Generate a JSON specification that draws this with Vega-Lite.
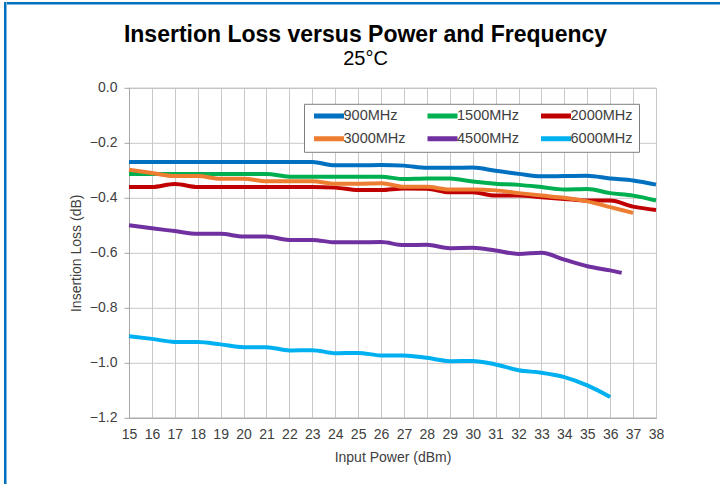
{
  "$schema": "https://vega.github.io/schema/vega-lite/v6.json",
  "padding": {"left": 4, "top": 2, "right": 0, "bottom": 0},
  "background": "white",
  "config": {
    "font": "Liberation Sans",
    "view": {"stroke": "#A6A6A6", "strokeWidth": 1}
  },
  "bounds": "flush",
  "spacing": 0,
  "resolve": {"scale": {"color": "independent"}, "legend": {"color": "independent"}},
  "hconcat": [
    {
      "width": 2.5,
      "height": 482,
      "view": {"fill": "#0070C0", "stroke": null},
      "data": {"values": [{"k": 1}]},
      "mark": {"type": "point", "size": 0, "opacity": 0},
      "encoding": {}
    },
    {
      "bounds": "flush",
      "spacing": 82.8,
      "resolve": {"scale": {"color": "independent"}, "legend": {"color": "independent"}},
      "vconcat": [
        {
          "width": 713.5,
          "height": 2.5,
          "view": {"fill": "#0070C0", "stroke": null},
          "data": {"values": [{"k": 1}]},
          "mark": {"type": "point", "size": 0, "opacity": 0},
          "encoding": {}
        },
        {
          "bounds": "flush",
          "spacing": 121,
          "resolve": {"scale": {"color": "independent"}, "legend": {"color": "independent"}},
          "hconcat": [
            {
              "width": 1,
              "height": 1,
              "view": {"stroke": null},
              "data": {"values": [{"k": 1}]},
              "mark": {"type": "point", "size": 0, "opacity": 0},
              "encoding": {}
            },
            {
              "width": 527,
              "height": 330,
              "title": {
                "text": "Insertion Loss versus Power and Frequency",
                "subtitle": "25°C",
                "anchor": "middle",
                "frame": "group",
                "dx": -27,
                "offset": 12,
                "font": "Liberation Sans",
                "fontSize": 23,
                "fontWeight": "bold",
                "color": "#000000",
                "subtitleFont": "Liberation Sans",
                "subtitleFontSize": 20,
                "subtitleColor": "#000000",
                "subtitlePadding": 2
              },
              "data": {
                "values": [
                  {"series": "900MHz", "x": 15, "y": -0.27}, {"series": "900MHz", "x": 16, "y": -0.27}, {"series": "900MHz", "x": 17, "y": -0.27}, {"series": "900MHz", "x": 18, "y": -0.27}, {"series": "900MHz", "x": 19, "y": -0.27}, {"series": "900MHz", "x": 20, "y": -0.27}, {"series": "900MHz", "x": 21, "y": -0.27}, {"series": "900MHz", "x": 22, "y": -0.27}, {"series": "900MHz", "x": 23, "y": -0.27}, {"series": "900MHz", "x": 24, "y": -0.282}, {"series": "900MHz", "x": 25, "y": -0.282}, {"series": "900MHz", "x": 26, "y": -0.281}, {"series": "900MHz", "x": 27, "y": -0.283}, {"series": "900MHz", "x": 28, "y": -0.291}, {"series": "900MHz", "x": 29, "y": -0.291}, {"series": "900MHz", "x": 30, "y": -0.29}, {"series": "900MHz", "x": 31, "y": -0.302}, {"series": "900MHz", "x": 32, "y": -0.313}, {"series": "900MHz", "x": 33, "y": -0.322}, {"series": "900MHz", "x": 34, "y": -0.321}, {"series": "900MHz", "x": 35, "y": -0.32}, {"series": "900MHz", "x": 36, "y": -0.33}, {"series": "900MHz", "x": 37, "y": -0.337}, {"series": "900MHz", "x": 38, "y": -0.352},
                  {"series": "1500MHz", "x": 15, "y": -0.313}, {"series": "1500MHz", "x": 16, "y": -0.313}, {"series": "1500MHz", "x": 17, "y": -0.313}, {"series": "1500MHz", "x": 18, "y": -0.313}, {"series": "1500MHz", "x": 19, "y": -0.313}, {"series": "1500MHz", "x": 20, "y": -0.313}, {"series": "1500MHz", "x": 21, "y": -0.313}, {"series": "1500MHz", "x": 22, "y": -0.323}, {"series": "1500MHz", "x": 23, "y": -0.323}, {"series": "1500MHz", "x": 24, "y": -0.323}, {"series": "1500MHz", "x": 25, "y": -0.323}, {"series": "1500MHz", "x": 26, "y": -0.323}, {"series": "1500MHz", "x": 27, "y": -0.332}, {"series": "1500MHz", "x": 28, "y": -0.33}, {"series": "1500MHz", "x": 29, "y": -0.33}, {"series": "1500MHz", "x": 30, "y": -0.341}, {"series": "1500MHz", "x": 31, "y": -0.349}, {"series": "1500MHz", "x": 32, "y": -0.353}, {"series": "1500MHz", "x": 33, "y": -0.361}, {"series": "1500MHz", "x": 34, "y": -0.37}, {"series": "1500MHz", "x": 35, "y": -0.368}, {"series": "1500MHz", "x": 36, "y": -0.383}, {"series": "1500MHz", "x": 37, "y": -0.392}, {"series": "1500MHz", "x": 38, "y": -0.41},
                  {"series": "2000MHz", "x": 15, "y": -0.361}, {"series": "2000MHz", "x": 16, "y": -0.361}, {"series": "2000MHz", "x": 17, "y": -0.35}, {"series": "2000MHz", "x": 18, "y": -0.361}, {"series": "2000MHz", "x": 19, "y": -0.361}, {"series": "2000MHz", "x": 20, "y": -0.361}, {"series": "2000MHz", "x": 21, "y": -0.361}, {"series": "2000MHz", "x": 22, "y": -0.361}, {"series": "2000MHz", "x": 23, "y": -0.361}, {"series": "2000MHz", "x": 24, "y": -0.363}, {"series": "2000MHz", "x": 25, "y": -0.372}, {"series": "2000MHz", "x": 26, "y": -0.372}, {"series": "2000MHz", "x": 27, "y": -0.366}, {"series": "2000MHz", "x": 28, "y": -0.367}, {"series": "2000MHz", "x": 29, "y": -0.38}, {"series": "2000MHz", "x": 30, "y": -0.38}, {"series": "2000MHz", "x": 31, "y": -0.392}, {"series": "2000MHz", "x": 32, "y": -0.392}, {"series": "2000MHz", "x": 33, "y": -0.398}, {"series": "2000MHz", "x": 34, "y": -0.404}, {"series": "2000MHz", "x": 35, "y": -0.41}, {"series": "2000MHz", "x": 36, "y": -0.41}, {"series": "2000MHz", "x": 37, "y": -0.432}, {"series": "2000MHz", "x": 38, "y": -0.444},
                  {"series": "3000MHz", "x": 15, "y": -0.298}, {"series": "3000MHz", "x": 16, "y": -0.31}, {"series": "3000MHz", "x": 17, "y": -0.321}, {"series": "3000MHz", "x": 18, "y": -0.321}, {"series": "3000MHz", "x": 19, "y": -0.331}, {"series": "3000MHz", "x": 20, "y": -0.331}, {"series": "3000MHz", "x": 21, "y": -0.34}, {"series": "3000MHz", "x": 22, "y": -0.34}, {"series": "3000MHz", "x": 23, "y": -0.34}, {"series": "3000MHz", "x": 24, "y": -0.349}, {"series": "3000MHz", "x": 25, "y": -0.349}, {"series": "3000MHz", "x": 26, "y": -0.347}, {"series": "3000MHz", "x": 27, "y": -0.36}, {"series": "3000MHz", "x": 28, "y": -0.36}, {"series": "3000MHz", "x": 29, "y": -0.37}, {"series": "3000MHz", "x": 30, "y": -0.37}, {"series": "3000MHz", "x": 31, "y": -0.373}, {"series": "3000MHz", "x": 32, "y": -0.383}, {"series": "3000MHz", "x": 33, "y": -0.392}, {"series": "3000MHz", "x": 34, "y": -0.4}, {"series": "3000MHz", "x": 35, "y": -0.413}, {"series": "3000MHz", "x": 36, "y": -0.434}, {"series": "3000MHz", "x": 37, "y": -0.455},
                  {"series": "4500MHz", "x": 15, "y": -0.5}, {"series": "4500MHz", "x": 16, "y": -0.511}, {"series": "4500MHz", "x": 17, "y": -0.521}, {"series": "4500MHz", "x": 18, "y": -0.531}, {"series": "4500MHz", "x": 19, "y": -0.531}, {"series": "4500MHz", "x": 20, "y": -0.541}, {"series": "4500MHz", "x": 21, "y": -0.541}, {"series": "4500MHz", "x": 22, "y": -0.553}, {"series": "4500MHz", "x": 23, "y": -0.553}, {"series": "4500MHz", "x": 24, "y": -0.562}, {"series": "4500MHz", "x": 25, "y": -0.562}, {"series": "4500MHz", "x": 26, "y": -0.561}, {"series": "4500MHz", "x": 27, "y": -0.572}, {"series": "4500MHz", "x": 28, "y": -0.571}, {"series": "4500MHz", "x": 29, "y": -0.583}, {"series": "4500MHz", "x": 30, "y": -0.582}, {"series": "4500MHz", "x": 31, "y": -0.592}, {"series": "4500MHz", "x": 32, "y": -0.604}, {"series": "4500MHz", "x": 33, "y": -0.6}, {"series": "4500MHz", "x": 34, "y": -0.625}, {"series": "4500MHz", "x": 35, "y": -0.649}, {"series": "4500MHz", "x": 36, "y": -0.664}, {"series": "4500MHz", "x": 36.5, "y": -0.673},
                  {"series": "6000MHz", "x": 15, "y": -0.903}, {"series": "6000MHz", "x": 16, "y": -0.913}, {"series": "6000MHz", "x": 17, "y": -0.924}, {"series": "6000MHz", "x": 18, "y": -0.924}, {"series": "6000MHz", "x": 19, "y": -0.933}, {"series": "6000MHz", "x": 20, "y": -0.943}, {"series": "6000MHz", "x": 21, "y": -0.943}, {"series": "6000MHz", "x": 22, "y": -0.955}, {"series": "6000MHz", "x": 23, "y": -0.954}, {"series": "6000MHz", "x": 24, "y": -0.965}, {"series": "6000MHz", "x": 25, "y": -0.964}, {"series": "6000MHz", "x": 26, "y": -0.973}, {"series": "6000MHz", "x": 27, "y": -0.973}, {"series": "6000MHz", "x": 28, "y": -0.982}, {"series": "6000MHz", "x": 29, "y": -0.994}, {"series": "6000MHz", "x": 30, "y": -0.993}, {"series": "6000MHz", "x": 31, "y": -1.006}, {"series": "6000MHz", "x": 32, "y": -1.027}, {"series": "6000MHz", "x": 33, "y": -1.036}, {"series": "6000MHz", "x": 34, "y": -1.052}, {"series": "6000MHz", "x": 35, "y": -1.082}, {"series": "6000MHz", "x": 36, "y": -1.124}
                ]
              },
              "mark": {"type": "line", "strokeWidth": 4, "interpolate": "monotone"},
              "encoding": {
                "x": {
                  "field": "x",
                  "type": "quantitative",
                  "scale": {"domain": [15, 38], "nice": false, "zero": false},
                  "axis": {
                    "title": "Input Power (dBm)",
                    "values": [15, 16, 17, 18, 19, 20, 21, 22, 23, 24, 25, 26, 27, 28, 29, 30, 31, 32, 33, 34, 35, 36, 37, 38],
                    "format": "d",
                    "ticks": false,
                    "labelPadding": 10,
                    "labelFontSize": 14,
                    "labelColor": "#404040",
                    "labelFlush": false,
                    "titleFontSize": 14,
                    "titleFontWeight": "normal",
                    "titleColor": "#404040",
                    "titlePadding": 9,
                    "domainColor": "#A6A6A6",
                    "gridColor": "#C8C8C8",
                    "gridOpacity": 1
                  }
                },
                "y": {
                  "field": "y",
                  "type": "quantitative",
                  "scale": {"domain": [-1.2, 0], "nice": false},
                  "axis": {
                    "title": "Insertion Loss (dB)",
                    "values": [-1.2, -1.0, -0.8, -0.6, -0.4, -0.2, 0],
                    "format": ".1f",
                    "tickSize": 5,
                    "tickColor": "#A6A6A6",
                    "labelPadding": 7,
                    "labelFontSize": 14,
                    "labelColor": "#404040",
                    "titleFontSize": 14,
                    "titleFontWeight": "normal",
                    "titleColor": "#404040",
                    "titlePadding": 6,
                    "domainColor": "#A6A6A6",
                    "gridColor": "#C8C8C8",
                    "gridOpacity": 1
                  }
                },
                "color": {
                  "field": "series",
                  "type": "nominal",
                  "scale": {
                    "domain": ["900MHz", "1500MHz", "2000MHz", "3000MHz", "4500MHz", "6000MHz"],
                    "range": ["#0070C0", "#00B050", "#C00000", "#ED7D31", "#7030A0", "#00B0F0"]
                  },
                  "legend": {
                    "title": null,
                    "orient": "none",
                    "legendX": 175,
                    "legendY": 16,
                    "direction": "horizontal",
                    "columns": 3,
                    "gridAlign": "all",
                    "columnPadding": 17.5,
                    "rowPadding": 8,
                    "padding": 6,
                    "clipHeight": 12,
                    "symbolType": "stroke",
                    "symbolSize": 900,
                    "symbolStrokeWidth": 5,
                    "symbolOffset": 1.5,
                    "labelOffset": -3,
                    "labelFontSize": 14.5,
                    "labelColor": "#404040",
                    "strokeColor": "#7F7F7F",
                    "fillColor": "white"
                  }
                }
              }
            }
          ]
        }
      ]
    }
  ]
}
